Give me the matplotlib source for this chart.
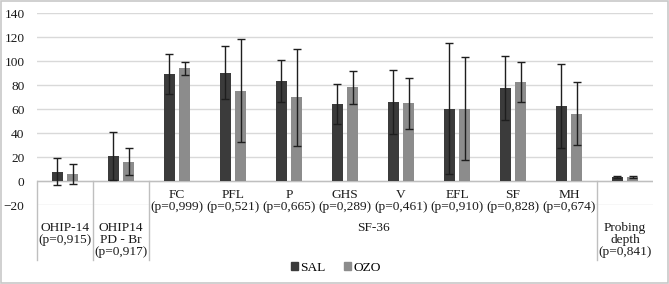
import matplotlib
matplotlib.use("Agg")
import matplotlib.pyplot as plt
import matplotlib.transforms as mtransforms
from matplotlib.patches import Patch, Rectangle
import numpy as np

plt.rcParams['font.family'] = ['Liberation Serif', 'DejaVu Serif']
plt.rcParams['font.size'] = 9.6

# first-level category labels (empty for the single-item groups)
categories = ['', '',
              'FC\n(p=0,999)', 'PFL\n(p=0,521)', 'P\n(p=0,665)', 'GHS\n(p=0,289)',
              'V\n(p=0,461)', 'EFL\n(p=0,910)', 'SF\n(p=0,828)', 'MH\n(p=0,674)',
              '']
# second-level groups: label, first index, last index (exclusive)
groups = [('OHIP-14\n(p=0,915)', 0, 1),
          ('OHIP14\nPD - Br\n(p=0,917)', 1, 2),
          ('SF-36', 2, 10),
          ('Probing\ndepth\n(p=0,841)', 10, 11)]

sal_mean = [7.8, 20.8, 89.2, 90.3, 83.3, 64.2, 65.8, 60.3, 77.5, 62.2, 3.3]
sal_sd = [11.0, 20.0, 16.7, 22.0, 17.5, 17.0, 27.0, 54.6, 27.0, 35.0, 1.0]
ozo_mean = [5.6, 16.0, 93.9, 75.3, 69.7, 78.0, 64.7, 60.3, 82.5, 56.1, 3.4]
ozo_sd = [8.4, 11.2, 5.5, 43.0, 40.7, 13.5, 21.4, 43.0, 16.7, 26.0, 1.1]

W, H = 669, 284
fig = plt.figure(figsize=(W / 100, H / 100), dpi=100)
ax = fig.add_axes([37 / W, 1 - 205 / H, 616 / W, 192 / H])

x = np.arange(len(sal_mean))
err_style = dict(ecolor='#1e1e1e', elinewidth=1.0, capsize=2.6, capthick=1.0)
ax.bar(x - 0.135, sal_mean, 0.205, yerr=sal_sd, color='#3b3b3b', error_kw=err_style, zorder=2)
ax.bar(x + 0.135, ozo_mean, 0.205, yerr=ozo_sd, color='#8c8c8c', error_kw=err_style, zorder=2)

ax.set_xlim(-0.5, len(x) - 0.5)
ax.set_ylim(-20, 140)
ax.set_yticks(range(-20, 141, 20))
ax.yaxis.grid(True, color='#d9d9d9', lw=1)
ax.set_axisbelow(True)
for s in ax.spines.values():
    s.set_visible(False)
ax.tick_params(axis='y', length=0, pad=9, labelcolor='#1a1a1a')
ax.set_xticks([])
ax.axhline(0, color='#bfbfbf', lw=1, zorder=1)

# multi-level category axis below zero line
trans = mtransforms.blended_transform_factory(ax.transData, fig.transFigure)
for i, lab in enumerate(categories):
    if lab:
        ax.text(i, 1 - 189 / H, lab, transform=trans, ha='center', va='top',
                linespacing=1.02, color='#1a1a1a')
for lab, a, b in groups:
    ax.text((a + b - 1) / 2, 1 - 222 / H, lab, transform=trans, ha='center', va='top',
            linespacing=1.02, color='#1a1a1a')
for xs in [-0.5, 0.5, 1.5, 9.5]:
    ax.plot([xs, xs], [1 - 181 / H, 1 - 260 / H], transform=trans, color='#bfbfbf',
            lw=1, clip_on=False)

fig.legend(handles=[Patch(color='#3b3b3b', label='SAL'), Patch(color='#8c8c8c', label='OZO')],
           loc='center', bbox_to_anchor=(336 / W, 1 - 268 / H), ncol=2, frameon=False,
           handlelength=0.5, handleheight=0.5, handletextpad=0.2, columnspacing=1.4)

fig.patches.append(Rectangle((0.002, 0.004), 0.996, 0.992, transform=fig.transFigure,
                             fill=False, ec='#c8c8c8', lw=1.2))

fig.savefig('out.png', dpi=100)
